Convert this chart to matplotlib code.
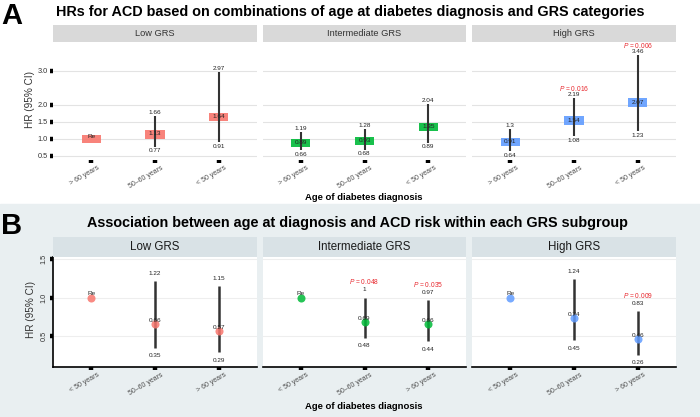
import numpy as np
import matplotlib
matplotlib.use("Agg")
import matplotlib.pyplot as plt
from matplotlib.patches import Rectangle
from matplotlib.transforms import ScaledTranslation

plt.rcParams['font.family'] = ['Liberation Sans', 'DejaVu Sans']
plt.rcParams['mathtext.fontset'] = 'custom'
plt.rcParams['mathtext.it'] = 'Liberation Sans:italic'
plt.rcParams['mathtext.rm'] = 'Liberation Sans'

# ---- data ----
groups = ["Low GRS", "Intermediate GRS", "High GRS"]
colors = ["#F8766D", "#00BA38", "#619CFF"]

# panel A: combinations of age at diagnosis and GRS
a_ages = ["> 60 years", "50\u201360 years", "< 50 years"]
a_hr = [[1.00, 1.13, 1.64], [0.89, 0.93, 1.35], [0.91, 1.54, 2.07]]
a_lo = [[np.nan, 0.77, 0.91], [0.66, 0.68, 0.89], [0.64, 1.08, 1.23]]
a_hi = [[np.nan, 1.66, 2.97], [1.19, 1.28, 2.04], [1.30, 2.19, 3.46]]
a_p = [[None, None, None], [None, None, None], [None, "0.016", "0.006"]]

# panel B: within each GRS subgroup
b_ages = ["< 50 years", "50\u201360 years", "> 60 years"]
b_hr = [[1.00, 0.66, 0.57], [1.00, 0.69, 0.66], [1.00, 0.74, 0.46]]
b_lo = [[np.nan, 0.35, 0.29], [np.nan, 0.48, 0.44], [np.nan, 0.45, 0.26]]
b_hi = [[np.nan, 1.22, 1.15], [np.nan, 1.00, 0.97], [np.nan, 1.24, 0.83]]
b_p = [[None, None, None], [None, "0.048", "0.035"], [None, None, "0.009"]]

W, H = 700, 417
fig = plt.figure(figsize=(7, 4.17), dpi=100)


def box(x0, y0, x1, y1):
    return [x0 / W, 1 - y1 / H, (x1 - x0) / W, (y1 - y0) / H]


def shift(ax, dx, dy):
    return ax.transData + ScaledTranslation(dx / 100, dy / 100, fig.dpi_scale_trans)


def fmt(v):
    return f"{v:g}"


# light background behind panel B
fig.add_artist(Rectangle((0, 0), 1, 1 - 204 / H, transform=fig.transFigure,
                         color="#e9eff1", zorder=-5))


def strip(x0, y0, x1, y1, label, fc, size, tc):
    s = fig.add_axes(box(x0, y0, x1, y1))
    s.set_facecolor(fc)
    s.set_xticks([])
    s.set_yticks([])
    for sp in s.spines.values():
        sp.set_visible(False)
    s.text(0.5, 0.5, label, ha="center", va="center", fontsize=size, color=tc,
           transform=s.transAxes)


def xlabels(ax, labels):
    ax.set_xticks([1, 2, 3])
    ax.set_xticklabels(labels, rotation=30, ha="right", va="top",
                       fontsize=5, color="#4d4d4d")
    for lab in ax.get_xticklabels():
        lab.set_transform(lab.get_transform() +
                          ScaledTranslation(9 / 100, 1 / 100, fig.dpi_scale_trans))


lab_kw = dict(ha="center", va="center", fontsize=4.6, color="#222222", zorder=5)
p_kw = dict(ha="center", va="center", fontsize=4.8, color="#e8282e", zorder=5)
xs = np.arange(1, 4)

# ---- panel A ----
for i, g in enumerate(groups):
    x0 = 53 + i * 209.5
    ax = fig.add_axes(box(x0, 42, x0 + 204, 160))
    strip(x0, 25, x0 + 204, 42, g, "#d9d9d9", 6.7, "#333333")
    ax.set_xlim(0.4, 3.6)
    ax.set_ylim(0.38, 3.85)
    ax.set_yticks([0.5, 1.0, 1.5, 2.0, 3.0])
    ax.grid(axis="y", color="#e3e3e3", lw=0.8)
    ax.set_axisbelow(True)
    for sp in ax.spines.values():
        sp.set_visible(False)
    ax.tick_params(length=2.2, width=3.2, color="black", pad=1.5)
    xlabels(ax, a_ages)
    if i == 0:
        ax.set_yticklabels(["0.5", "1.0", "1.5", "2.0", "3.0"], fontsize=5.3,
                           color="#333333")
    else:
        ax.tick_params(axis="y", left=False, labelleft=False)

    hr = np.array(a_hr[i])
    lo = np.array(a_lo[i])
    hi = np.array(a_hi[i])
    ax.bar(xs, 0.24, width=0.3, bottom=hr - 0.12, color=colors[i], alpha=0.9,
           zorder=2)
    m = ~np.isnan(lo)
    ax.vlines(xs[m], lo[m], hi[m], color="#333333", lw=1.5, zorder=3)
    for j in range(3):
        if np.isnan(lo[j]):
            ax.text(xs[j], hr[j], "Re", transform=shift(ax, 0, 2), **lab_kw)
            continue
        ax.text(xs[j], hr[j], f"{hr[j]:.2f}", transform=shift(ax, 0, 0.5), **lab_kw)
        ax.text(xs[j], hi[j], fmt(hi[j]), transform=shift(ax, 0, 3.5), **lab_kw)
        ax.text(xs[j], lo[j], fmt(lo[j]), transform=shift(ax, 0, -4.2), **lab_kw)
        if a_p[i][j]:
            ax.text(xs[j], hi[j], "$P$ = " + a_p[i][j], transform=shift(ax, 0, 10.2),
                    **p_kw)

# ---- panel B ----
for i, g in enumerate(groups):
    x0 = 53 + i * 209.5
    ax = fig.add_axes(box(x0, 257, x0 + 204, 367))
    strip(x0, 237, x0 + 204, 257, g, "#d9e2e6", 8.3, "#1a1a1a")
    ax.set_facecolor("white")
    ax.set_xlim(0.4, 3.6)
    ax.set_ylim(0.1, 1.53)
    ax.set_yticks([0.5, 1.0, 1.5])
    ax.grid(axis="y", color="#eeeeee", lw=0.8)
    ax.set_axisbelow(True)
    for k in ("top", "right"):
        ax.spines[k].set_visible(False)
    ax.spines["bottom"].set_linewidth(1.2)
    ax.tick_params(length=2.2, width=3.2, color="black", pad=1.5)
    xlabels(ax, b_ages)
    if i == 0:
        ax.spines["left"].set_linewidth(1.2)
        ax.set_yticklabels(["0.5", "1.0", "1.5"], fontsize=5.3, color="#333333",
                           rotation=90, va="center")
    else:
        ax.spines["left"].set_visible(False)
        ax.tick_params(axis="y", left=False, labelleft=False)

    hr = np.array(b_hr[i])
    lo = np.array(b_lo[i])
    hi = np.array(b_hi[i])
    m = ~np.isnan(lo)
    ax.vlines(xs[m], lo[m], hi[m], color="#333333", lw=1.8, zorder=3)
    ax.plot(xs, hr, "o", ms=5.8, color=colors[i], alpha=0.85, zorder=4,
            markeredgewidth=0)
    for j in range(3):
        if np.isnan(lo[j]):
            ax.text(xs[j], hr[j], "Re", transform=shift(ax, 0, 4), **lab_kw)
            continue
        ax.text(xs[j], hr[j], f"{hr[j]:.2f}", transform=shift(ax, 0, 3.4), **lab_kw)
        ax.text(xs[j], hi[j], fmt(hi[j]), transform=shift(ax, 0, 7.8), **lab_kw)
        ax.text(xs[j], lo[j], fmt(lo[j]), transform=shift(ax, 0, -8.2), **lab_kw)
        if b_p[i][j]:
            ax.text(xs[j], hi[j], "$P$ = " + b_p[i][j], transform=shift(ax, 0, 15.8),
                    **p_kw)

# ---- titles and labels ----
fig.text(12 / W, 1 - 15.5 / H, "A", fontsize=21, fontweight="bold",
         ha="center", va="center")
fig.text(12 / W, 1 - 225.5 / H, "B", fontsize=21, fontweight="bold",
         ha="center", va="center")
fig.text(350 / W, 1 - 12 / H,
         "HRs for ACD based on combinations of age at diabetes diagnosis and GRS categories",
         fontsize=10.4, fontweight="bold", ha="center", va="center")
fig.text(357 / W, 1 - 223 / H,
         "Association between age at diagnosis and ACD risk within each GRS subgroup",
         fontsize=10.4, fontweight="bold", ha="center", va="center")
for yy in (198, 406.5):
    fig.text(364 / W, 1 - yy / H, "Age of diabetes diagnosis", fontsize=6.8,
             fontweight="bold", ha="center", va="center")
fig.text(30 / W, 1 - 100 / H, "HR (95% CI)", fontsize=7.2, rotation=90,
         ha="center", va="center", color="#333333")
fig.text(31.5 / W, 1 - 310 / H, "HR (95% CI)", fontsize=7.2, rotation=90,
         ha="center", va="center", color="#333333")

fig.savefig("out.png", dpi=100)
